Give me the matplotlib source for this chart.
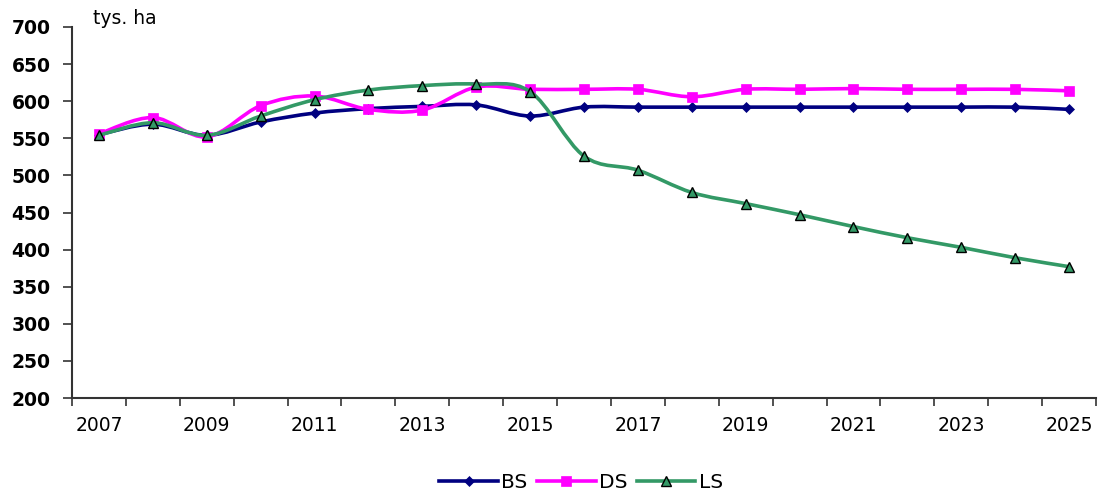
import matplotlib
matplotlib.use("Agg")
import matplotlib.pyplot as plt
import numpy as np
from matplotlib.path import Path
from matplotlib.patches import PathPatch
from matplotlib.lines import Line2D

years = [str(y) for y in range(2007, 2026)]
bs = [555, 569, 554, 572, 584, 590, 593, 595, 580, 592, 592, 592, 592, 592, 592, 592, 592, 592, 589]
ds = [556, 578, 552, 594, 607, 589, 588, 619, 616, 616, 616, 606, 616, 616, 617, 616, 616, 616, 614]
ls = [554, 571, 554, 580, 602, 615, 621, 623, 613, 526, 507, 477, 462, 447, 431, 416, 403, 389, 377]
series_names = ["BS", "DS", "LS"]
colors = ["#000080", "#FF00FF", "#339966"]
yticks = list(range(200, 701, 50))
unit_label = "tys. ha"

plt.rcParams['font.family'] = ['DejaVu Sans']

fig = plt.figure(figsize=(10.98, 4.91), dpi=100)
ax = fig.add_axes([72/1098, 1-398/491, 1024/1098, 371/491])

x = np.arange(len(years))


def smooth_path(xs, ys):
    pts = np.column_stack([xs, ys]).astype(float)
    n = len(pts)
    verts = [pts[0]]
    codes = [Path.MOVETO]
    for i in range(n - 1):
        p0 = pts[i - 1] if i > 0 else pts[i]
        p1 = pts[i]
        p2 = pts[i + 1]
        p3 = pts[i + 2] if i + 2 < n else pts[i + 1]
        c1 = p1 + (p2 - p0) / 6.0
        c2 = p2 - (p3 - p1) / 6.0
        verts += [c1, c2, p2]
        codes += [Path.CURVE4] * 3
    return Path(verts, codes)


styles = [
    dict(marker='D', ms=5, mfc=colors[0], mec=colors[0], mew=0.5),
    dict(marker='s', ms=7.5, mfc=colors[1], mec=colors[1], mew=0.5),
    dict(marker='^', ms=7.5, mfc=colors[2], mec='black', mew=1.0),
]
handles = []
for k, vals in enumerate([bs, ds, ls]):
    patch = PathPatch(smooth_path(x, vals), fill=False, edgecolor=colors[k],
                      lw=2.6, capstyle='round', joinstyle='round', zorder=2 + k)
    ax.add_patch(patch)
    ax.plot(x, vals, linestyle='none', zorder=2 + k + 0.5, **styles[k])
    handles.append(Line2D([], [], color=colors[k], lw=2.6, **styles[k]))

ax.set_xlim(-0.5, len(years) - 0.5)
ax.set_ylim(200, 700)
ax.set_yticks(yticks)
ax.set_yticklabels([str(v) for v in yticks], fontsize=13.5, fontweight='bold')

ax.set_xticks(np.arange(-0.5, len(years), 1.0))
ax.set_xticklabels([])
ax.set_xticks(x[::2], minor=True)
ax.set_xticklabels(years[::2], minor=True, fontsize=13.5)
ax.tick_params(axis='x', which='major', direction='out', length=6, width=1.2, color='#333333')
ax.tick_params(axis='x', which='minor', length=0, pad=13)
ax.tick_params(axis='y', direction='out', length=6.5, width=1.2, color='#333333', pad=9)

for s in ['top', 'right']:
    ax.spines[s].set_visible(False)
for s in ['left', 'bottom']:
    ax.spines[s].set_linewidth(1.5)
    ax.spines[s].set_color('#333333')

fig.text(93/1098, 1-19/491, unit_label, fontsize=13.5, va='center', ha='left')

fig.legend(handles, series_names, loc='center', bbox_to_anchor=(581/1098, 1-483/491),
           ncol=3, frameon=False, fontsize=14.5, handlelength=2.9, handletextpad=0.15,
           columnspacing=0.5, numpoints=1, borderpad=0.2)

fig.savefig("out.png", dpi=100)
